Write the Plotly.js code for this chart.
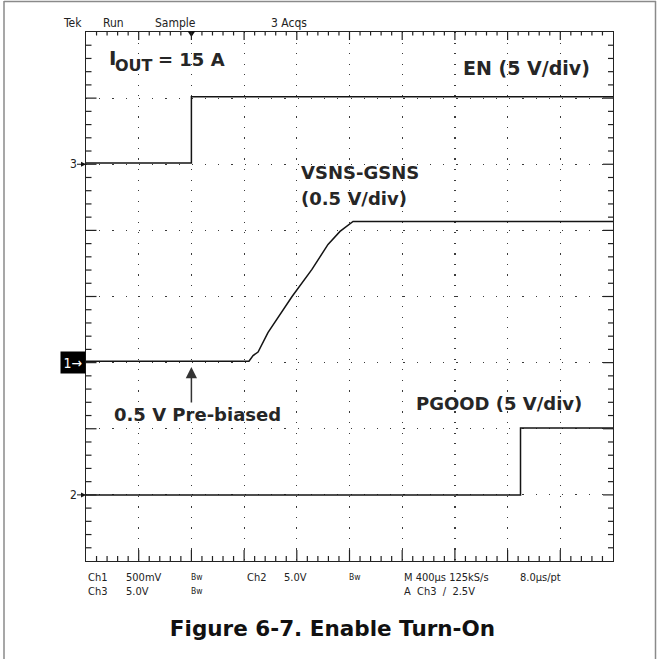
<!DOCTYPE html>
<html>
<head>
<meta charset="utf-8">
<script src="https://cdn.plot.ly/plotly-3.0.1.min.js"></script>
<style>
  html, body { margin: 0; padding: 0; background: #ffffff; }
  #chart { width: 661px; height: 659px; }
</style>
</head>
<body>
<div id="chart"></div>
<script>
// ---------- data read from the oscilloscope capture ----------
// time in ms relative to the trigger (400 us/div, 10 divisions)
const enTime   = [-0.8, 0.0, 0.0, 3.2];
const enVolts  = [0.1, 0.1, 5.1, 5.1];

const vsnsTime  = [-0.8, 0.437, 0.468, 0.506, 0.581, 0.764, 0.915, 1.037, 1.128, 1.227, 3.2];
const vsnsVolts = [0.51, 0.51, 0.553, 0.580, 0.727, 1.0, 1.205, 1.394, 1.492, 1.568, 1.568];

const pgTime   = [-0.8, 2.498, 2.498, 3.2];
const pgVolts  = [0.0, 0.0, 5.05, 5.05];

// channel settings (V/div, reference level on screen in divisions, offset in V)
const ch1Scale = 0.5, ch1Ref = -1, ch1Offset = 0.5;   // VSNS-GSNS
const ch2Scale = 5.0, ch2Ref = -3, ch2Offset = 0.0;   // PGOOD
const ch3Scale = 5.0, ch3Ref = 2,  ch3Offset = 0.0;   // EN

const headerLabels = ["Tek", "Run", "Sample", "3 Acqs"];
const readoutRow1  = ["Ch1", "500mV", "Bw", "Ch2", "5.0V", "Bw", "M 400\u00b5s 125kS/s", "8.0\u00b5s/pt"];
const readoutRow2  = ["Ch3", "5.0V", "Bw", "A  Ch3  \u2215  2.5V"];
const figureTitle  = "Figure 6-7. Enable Turn-On";

// screen: 10 horizontal x 8 vertical divisions, 5 minor marks per division
const xRange = [-0.8, 3.2], xDiv = 10;
const yRange = [-4, 4], yDiv = 8;
const subDiv = 5;

// ---------- geometry ----------
const W = 661, H = 659;
const L = 86, R = 613, T = 32, B = 561;
const px = x => (x - L) / (R - L);
const py = y => (B - y) / (B - T);

const toDiv = (vals, scale, ref, off) => vals.map(v => ref + (v - off) / scale);

const traceColor = '#141414';
const mkTrace = (x, y, name) => ({
  x: x, y: y, name: name, type: 'scatter', mode: 'lines',
  line: { color: traceColor, width: 1.5 }, hoverinfo: 'skip', showlegend: false
});

const data = [
  mkTrace(enTime, toDiv(enVolts, ch3Scale, ch3Ref, ch3Offset), 'EN'),
  mkTrace(vsnsTime, toDiv(vsnsVolts, ch1Scale, ch1Ref, ch1Offset), 'VSNS-GSNS'),
  mkTrace(pgTime, toDiv(pgVolts, ch2Scale, ch2Ref, ch2Offset), 'PGOOD')
];

const narrow = '"Liberation Sans Narrow", "DejaVu Sans Condensed", "Arial Narrow", sans-serif';
const boldFam = '"DejaVu Sans", "Liberation Sans", sans-serif';
const scopeTxt = '#222222';
const noteTxt = '#262626';

const annotations = [];
function txt(text, x, y, opts) {
  annotations.push(Object.assign({
    text: text, xref: 'paper', yref: 'paper', x: px(x), y: py(y),
    xanchor: 'left', yanchor: 'middle', showarrow: false,
    font: { family: narrow, size: 11, color: scopeTxt }
  }, opts || {}));
}

// header
const headerX = [72.5, 113, 175, 289];
headerLabels.forEach((t, i) => txt(t, headerX[i], 23.5, { xanchor: 'center', font: { family: narrow, size: 12, color: scopeTxt } }));

// readout rows
const smallBw = { font: { family: narrow, size: 8.5, color: scopeTxt } };
const row1X = [86, 124, 189, 245, 282, 347, 402, 518];
readoutRow1.forEach((t, i) => txt(t, row1X[i], 577, t === 'Bw' ? smallBw : {}));
const row2X = [86, 124, 189, 402];
readoutRow2.forEach((t, i) => txt(t, row2X[i], 591, t === 'Bw' ? smallBw : {}));

// channel markers
[['3', ch3Ref], ['2', ch2Ref]].forEach(([lab, ref]) => annotations.push({
  text: lab, xref: 'x', yref: 'y', x: xRange[0], y: ref, showarrow: true,
  ax: -13, ay: 0, arrowhead: 2, arrowsize: 1, arrowwidth: 1, arrowcolor: '#111',
  standoff: 0, font: { family: narrow, size: 12, color: scopeTxt }, borderpad: 0
}));
annotations.push({
  text: '1\u2192', xref: 'x', yref: 'y', x: xRange[0], y: ch1Ref, showarrow: false,
  xanchor: 'right', yanchor: 'middle', bgcolor: '#000000', borderpad: 2.5,
  font: { family: narrow, size: 14, color: '#ffffff' }
});

// callouts
const bold18 = { family: boldFam, size: 18, color: noteTxt, weight: 700 };
const boldSz = s => Object.assign({}, bold18, { size: s });
txt('I', 106.5, 57.5, { font: boldSz(20) });
txt('OUT', 112.5, 66, { font: boldSz(16) });
txt('= 15 A', 156, 59, { font: bold18 });
txt('EN (5 V/div)', 461, 68, { font: boldSz(19) });
txt('VSNS-GSNS', 299, 172, { font: bold18 });
txt('(0.5 V/div)', 299, 198, { font: bold18 });
txt('0.5 V Pre-biased', 112, 414, { font: bold18 });
txt('PGOOD (5 V/div)', 414, 403, { font: bold18 });

// arrow pointing at the pre-bias level
annotations.push({
  text: '', xref: 'x', yref: 'y', x: 0, y: yRange[0] + (B - 367) / (B - T) * (yRange[1] - yRange[0]),
  showarrow: true, ax: 0, ay: 37, arrowhead: 2, arrowsize: 1.5, arrowwidth: 1.5,
  arrowcolor: '#333', standoff: 0
});

const tickColor = '#222';
const shapes = [
  // trigger position marker
  { type: 'path', xref: 'x', xsizemode: 'pixel', xanchor: 0,
    yref: 'paper', ysizemode: 'pixel', yanchor: 1,
    path: 'M-4,1 L4,1 L0,-5 Z', fillcolor: '#111', line: { width: 0 } },
  // page frame
  { type: 'line', xref: 'paper', yref: 'paper', x0: px(4), x1: px(4), y0: py(1), y1: py(659),
    line: { color: '#8a8a8a', width: 1.5 } },
  { type: 'line', xref: 'paper', yref: 'paper', x0: px(4), x1: px(656), y0: py(1.5), y1: py(1.5),
    line: { color: '#8a8a8a', width: 1.5 } },
  { type: 'line', xref: 'paper', yref: 'paper', x0: px(655.5), x1: px(655.5), y0: py(1), y1: py(659),
    line: { color: '#8a8a8a', width: 1.5 } }
];

// graticule edge marks (major at each division, minor at each fifth)
const nx = xDiv * subDiv, ny = yDiv * subDiv;
for (let i = 1; i < nx; i++) {
  const xv = xRange[0] + (xRange[1] - xRange[0]) * i / nx;
  const major = i % subDiv === 0;
  shapes.push({ type: 'line', xref: 'x', x0: xv, x1: xv, yref: 'paper', ysizemode: 'pixel', yanchor: 1,
    y0: 0, y1: -(major ? 8 : 3.5), line: { color: tickColor, width: 1.2 } });
  shapes.push({ type: 'line', xref: 'x', x0: xv, x1: xv, yref: 'paper', ysizemode: 'pixel', yanchor: 0,
    y0: 0, y1: (major ? 11 : 5), line: { color: tickColor, width: 1.2 } });
}
for (let j = 1; j < ny; j++) {
  const yv = yRange[0] + (yRange[1] - yRange[0]) * j / ny;
  const major = j % subDiv === 0;
  shapes.push({ type: 'line', yref: 'y', y0: yv, y1: yv, xref: 'paper', xsizemode: 'pixel', xanchor: 0,
    x0: 0, x1: (major ? 10.5 : 5.5), line: { color: tickColor, width: 1.2 } });
  shapes.push({ type: 'line', yref: 'y', y0: yv, y1: yv, xref: 'paper', xsizemode: 'pixel', xanchor: 1,
    x0: 0, x1: -(major ? 10 : 5), line: { color: tickColor, width: 1.2 } });
}

const axisCommon = {
  showline: true, linecolor: '#222', linewidth: 1.3, mirror: true,
  ticks: '', showticklabels: false, zeroline: false, showgrid: true,
  gridcolor: '#3a3a3a', gridwidth: 1.2, fixedrange: true
};

const layout = {
  width: W, height: H,
  margin: { l: L, r: W - R, t: T, b: H - B, pad: 0 },
  paper_bgcolor: '#ffffff', plot_bgcolor: '#ffffff',
  showlegend: false,
  title: {
    text: figureTitle, x: 332.5 / W, xref: 'container', xanchor: 'center',
    y: 1 - 628 / H, yref: 'container', yanchor: 'middle',
    font: { family: boldFam, size: 21.5, color: '#111111', weight: 700 }
  },
  xaxis: Object.assign({}, axisCommon, {
    range: xRange, tick0: xRange[0], dtick: (xRange[1] - xRange[0]) / xDiv,
    griddash: '1.2px,' + ((R - L) / (xDiv * subDiv) - 1.2).toFixed(3) + 'px'
  }),
  yaxis: Object.assign({}, axisCommon, {
    range: yRange, tick0: yRange[0], dtick: (yRange[1] - yRange[0]) / yDiv,
    griddash: '1.2px,' + ((B - T) / (yDiv * subDiv) - 1.2).toFixed(3) + 'px'
  }),
  annotations: annotations,
  shapes: shapes
};

Plotly.newPlot('chart', data, layout, { staticPlot: true, displayModeBar: false });
</script>
</body>
</html>
